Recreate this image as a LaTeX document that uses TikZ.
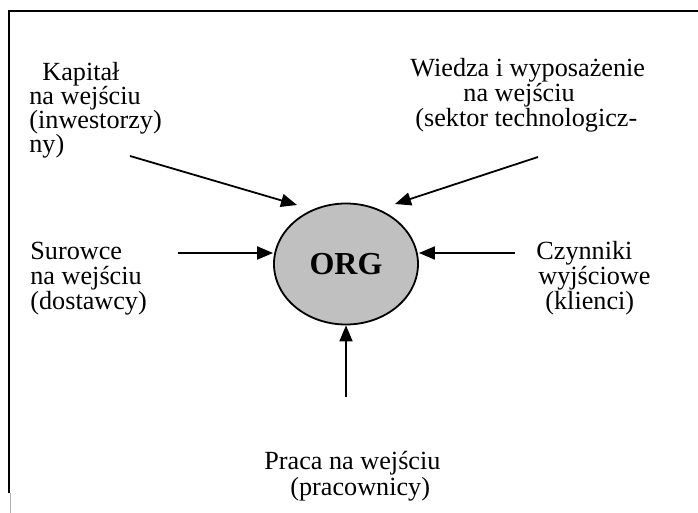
\documentclass[tikz,border=0pt]{standalone}
\usepackage{fontspec}
\setmainfont{Liberation Serif}
\usetikzlibrary{arrows.meta,shapes.geometric}
\begin{document}
\begin{tikzpicture}[x=0.5pt,y=-0.5pt,
  frameline/.style={line width=1pt,black},
  txt/.style={anchor=base west,inner sep=0pt,font=\fontsize{13.1}{15}\selectfont},
  flow/.style={line width=0.9pt,-{Triangle[length=8pt,width=6.5pt]}},
  orgnode/.style={ellipse,draw,line width=0.9pt,fill=orggray,minimum width=72pt,minimum height=60.5pt,inner sep=0pt,font=\fontsize{16}{18}\selectfont\bfseries}]
\definecolor{orggray}{HTML}{C0C0C0}
\useasboundingbox (0,0) rectangle (698,513);
% open frame: top and left edges
\draw[frameline] (698,11) -- (9,11) -- (9,493);
\draw[line width=0.4pt,gray!60] (10.5,493) -- (10.5,513);

% centre
\node[orgnode] (org) at (346,264) {ORG};

% capital
\node[txt] (kap1) at (42,81) {Kapitał};
\node[txt] (kap2) at (29,105) {na wejściu};
\node[txt] (kap3) at (29,129) {(inwestorzy)};
\node[txt] (kap4) at (29,153) {ny)};
% knowledge and equipment
\node[txt] (wie1) at (410,77) {Wiedza i wyposażenie};
\node[txt] (wie2) at (463,102) {na wejściu};
\node[txt] (wie3) at (415,127) {(sektor technologicz-};
% raw materials
\node[txt] (sur1) at (30,260) {Surowce};
\node[txt] (sur2) at (30,285) {na wejściu};
\node[txt] (sur3) at (30,310) {(dostawcy)};
% outputs
\node[txt] (czy1) at (536,260) {Czynniki};
\node[txt] (czy2) at (538,285) {wyjściowe};
\node[txt] (czy3) at (545,310) {(klienci)};
% labour
\node[txt] (pra1) at (264,470) {Praca na wejściu};
\node[txt] (pra2) at (290,496) {(pracownicy)};

% arrow ends
\coordinate (kapS) at (130,156);
\coordinate (kapT) at (297,205);
\coordinate (wieS) at (538,157);
\coordinate (wieT) at (395,204);
\coordinate (surS) at (178,253);
\coordinate (czyS) at (515,253);
\coordinate (praS) at (346,397);

\draw[flow] (kapS) -- (kapT);
\draw[flow] (wieS) -- (wieT);
\draw[flow] (surS) -- (surS -| org.west);
\draw[flow] (czyS) -- (czyS -| org.east);
\draw[flow] (praS) -- (org.south);
\end{tikzpicture}
\end{document}
